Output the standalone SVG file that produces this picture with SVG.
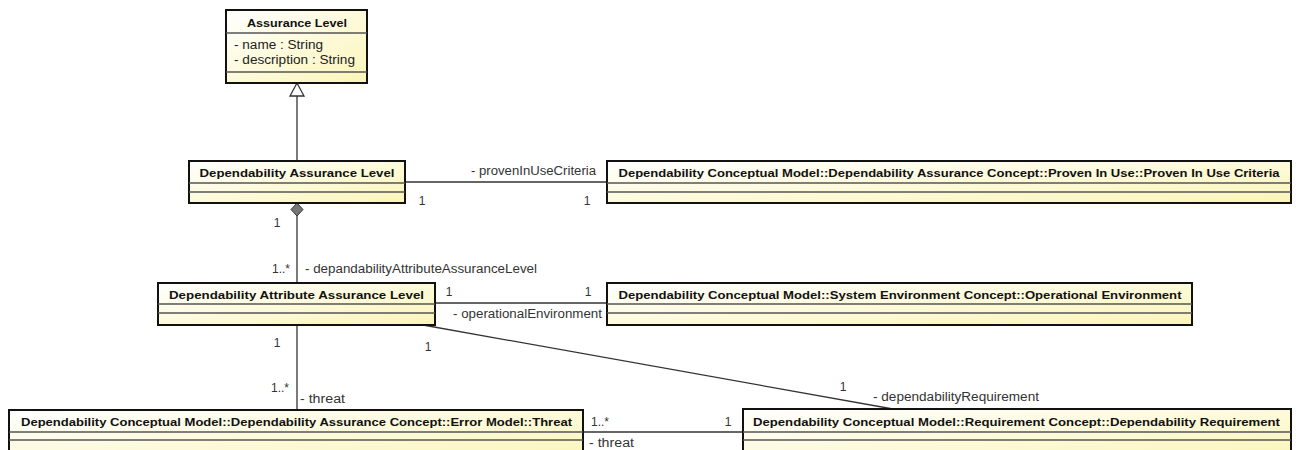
<svg xmlns="http://www.w3.org/2000/svg" width="1296" height="450" viewBox="0 0 1296 450">
<defs>
<linearGradient id="fillg" x1="0" y1="0" x2="1" y2="1">
<stop offset="0" stop-color="#ffffff"/>
<stop offset="1" stop-color="#fbf5b8"/>
</linearGradient>
<style>
.box{fill:url(#fillg);stroke:#111;stroke-width:2}
.sep{stroke:#555;stroke-width:1.3}
.title{font-family:"Liberation Sans",Arial,sans-serif;font-weight:bold;font-size:11.5px;fill:#111;text-anchor:middle}
.attr{font-family:"Liberation Sans",Arial,sans-serif;font-size:12px;fill:#222}
.lbl{font-family:"Liberation Sans",Arial,sans-serif;font-size:12px;fill:#333}
.edge{stroke:#333;stroke-width:1.3;fill:none}
</style>
</defs>
<rect width="1296" height="450" fill="#ffffff"/>

<g id="connectors">
<line class="edge" x1="297" y1="96" x2="297" y2="161"/>
<polygon points="297,83 290,96 304,96" fill="#fff" stroke="#333" stroke-width="1.3"/>
<line class="edge" x1="405" y1="182" x2="607" y2="182"/>
<line class="edge" x1="297" y1="216" x2="297" y2="283"/>
<polygon points="297,203 303,209.5 297,216 291,209.5" fill="#777" stroke="#333" stroke-width="1"/>
<line class="edge" x1="435" y1="303" x2="607" y2="303"/>
<line class="edge" x1="297" y1="325" x2="297" y2="410"/>
<line class="edge" x1="423" y1="325" x2="893" y2="409"/>
<line class="edge" x1="583" y1="432" x2="743" y2="432"/>
<text class="lbl" x="596" y="175" text-anchor="end" textLength="125" lengthAdjust="spacingAndGlyphs">- provenInUseCriteria</text>
<text class="lbl" x="422" y="205" text-anchor="middle">1</text>
<text class="lbl" x="587" y="205" text-anchor="middle">1</text>
<text class="lbl" x="277" y="227" text-anchor="middle">1</text>
<text class="lbl" x="290" y="273" text-anchor="end">1..*</text>
<text class="lbl" x="305" y="273" textLength="232" lengthAdjust="spacingAndGlyphs">- depandabilityAttributeAssuranceLevel</text>
<text class="lbl" x="449" y="296" text-anchor="middle">1</text>
<text class="lbl" x="588" y="296" text-anchor="middle">1</text>
<text class="lbl" x="453" y="318" textLength="149" lengthAdjust="spacingAndGlyphs">- operationalEnvironment</text>
<text class="lbl" x="277" y="347" text-anchor="middle">1</text>
<text class="lbl" x="428" y="351" text-anchor="middle">1</text>
<text class="lbl" x="289" y="392" text-anchor="end">1..*</text>
<text class="lbl" x="300" y="403" textLength="45" lengthAdjust="spacingAndGlyphs">- threat</text>
<text class="lbl" x="843" y="391" text-anchor="middle">1</text>
<text class="lbl" x="873" y="401" textLength="166" lengthAdjust="spacingAndGlyphs">- dependabilityRequirement</text>
<text class="lbl" x="591" y="426">1..*</text>
<text class="lbl" x="728" y="426" text-anchor="middle">1</text>
<text class="lbl" x="589" y="447" textLength="45" lengthAdjust="spacingAndGlyphs">- threat</text>
</g>

<g id="assurance-level">
<rect class="box" x="226" y="10" width="141" height="73"/>
<line class="sep" x1="226" y1="33" x2="367" y2="33"/>
<line class="sep" x1="226" y1="72" x2="367" y2="72"/>
<text class="title" x="297" y="27" textLength="100" lengthAdjust="spacingAndGlyphs">Assurance Level</text>
<text class="attr" x="234" y="49" textLength="89" lengthAdjust="spacingAndGlyphs">- name : String</text>
<text class="attr" x="234" y="64" textLength="121" lengthAdjust="spacingAndGlyphs">- description : String</text>
</g>

<g id="dependability-assurance-level">
<rect class="box" x="189" y="161" width="216" height="42"/>
<line class="sep" x1="189" y1="183" x2="405" y2="183"/>
<line class="sep" x1="189" y1="192" x2="405" y2="192"/>
<text class="title" x="297" y="177" textLength="195" lengthAdjust="spacingAndGlyphs">Dependability Assurance Level</text>
</g>

<g id="proven-in-use-criteria">
<rect class="box" x="607" y="161" width="684" height="42"/>
<line class="sep" x1="607" y1="183" x2="1291" y2="183"/>
<line class="sep" x1="607" y1="192" x2="1291" y2="192"/>
<text class="title" x="949" y="177" textLength="661" lengthAdjust="spacingAndGlyphs">Dependability Conceptual Model::Dependability Assurance Concept::Proven In Use::Proven In Use Criteria</text>
</g>

<g id="dependability-attribute-assurance-level">
<rect class="box" x="158" y="283" width="277" height="42"/>
<line class="sep" x1="158" y1="304" x2="435" y2="304"/>
<line class="sep" x1="158" y1="313" x2="435" y2="313"/>
<text class="title" x="296.5" y="299" textLength="255" lengthAdjust="spacingAndGlyphs">Dependability Attribute Assurance Level</text>
</g>

<g id="operational-environment">
<rect class="box" x="607" y="283" width="585" height="42"/>
<line class="sep" x1="607" y1="304" x2="1192" y2="304"/>
<line class="sep" x1="607" y1="313" x2="1192" y2="313"/>
<text class="title" x="900" y="299" textLength="563" lengthAdjust="spacingAndGlyphs">Dependability Conceptual Model::System Environment Concept::Operational Environment</text>
</g>

<g id="threat">
<rect class="box" x="9" y="410" width="574" height="50"/>
<line class="sep" x1="9" y1="432" x2="583" y2="432"/>
<line class="sep" x1="9" y1="440" x2="583" y2="440"/>
<text class="title" x="296.5" y="426" textLength="551" lengthAdjust="spacingAndGlyphs">Dependability Conceptual Model::Dependability Assurance Concept::Error Model::Threat</text>
</g>

<g id="dependability-requirement">
<rect class="box" x="743" y="409" width="548" height="50"/>
<line class="sep" x1="743" y1="432" x2="1291" y2="432"/>
<line class="sep" x1="743" y1="440" x2="1291" y2="440"/>
<text class="title" x="1016.5" y="426" textLength="527" lengthAdjust="spacingAndGlyphs">Dependability Conceptual Model::Requirement Concept::Dependability Requirement</text>
</g>
</svg>
